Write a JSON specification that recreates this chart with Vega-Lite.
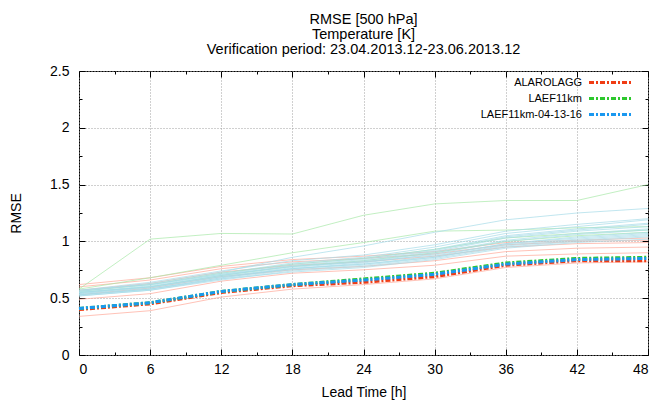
{
"$schema": "https://vega.github.io/schema/vega-lite/v6.json",
"width": 569, "height": 284,
"autosize": {"type": "none"},
"padding": {"left": 79, "top": 71, "right": 11, "bottom": 50},
"background": "white",
"config": {"font": "Liberation Sans", "view": {"stroke": "black", "strokeWidth": 1}},
"title": {"text": ["RMSE [500 hPa]", "Temperature [K]", "Verification period: 23.04.2013.12-23.06.2013.12"], "fontSize": 14.5, "fontWeight": "normal", "lineHeight": 15, "offset": 7, "anchor": "middle", "color": "black"},
"datasets": {
"members": [
{"grp":"ALARO_LAGG","run":"a1","lead":0,"rmse":0.34},{"grp":"ALARO_LAGG","run":"a1","lead":6,"rmse":0.39},{"grp":"ALARO_LAGG","run":"a1","lead":12,"rmse":0.51},{"grp":"ALARO_LAGG","run":"a1","lead":18,"rmse":0.58},{"grp":"ALARO_LAGG","run":"a1","lead":24,"rmse":0.62},{"grp":"ALARO_LAGG","run":"a1","lead":30,"rmse":0.67},{"grp":"ALARO_LAGG","run":"a1","lead":36,"rmse":0.77},{"grp":"ALARO_LAGG","run":"a1","lead":42,"rmse":0.81},{"grp":"ALARO_LAGG","run":"a1","lead":48,"rmse":0.82},
{"grp":"ALARO_LAGG","run":"a2","lead":0,"rmse":0.49},{"grp":"ALARO_LAGG","run":"a2","lead":6,"rmse":0.54},{"grp":"ALARO_LAGG","run":"a2","lead":12,"rmse":0.65},{"grp":"ALARO_LAGG","run":"a2","lead":18,"rmse":0.72},{"grp":"ALARO_LAGG","run":"a2","lead":24,"rmse":0.75},{"grp":"ALARO_LAGG","run":"a2","lead":30,"rmse":0.79},{"grp":"ALARO_LAGG","run":"a2","lead":36,"rmse":0.87},{"grp":"ALARO_LAGG","run":"a2","lead":42,"rmse":0.89},{"grp":"ALARO_LAGG","run":"a2","lead":48,"rmse":0.90},
{"grp":"ALARO_LAGG","run":"a3","lead":0,"rmse":0.53},{"grp":"ALARO_LAGG","run":"a3","lead":6,"rmse":0.59},{"grp":"ALARO_LAGG","run":"a3","lead":12,"rmse":0.69},{"grp":"ALARO_LAGG","run":"a3","lead":18,"rmse":0.75},{"grp":"ALARO_LAGG","run":"a3","lead":24,"rmse":0.78},{"grp":"ALARO_LAGG","run":"a3","lead":30,"rmse":0.83},{"grp":"ALARO_LAGG","run":"a3","lead":36,"rmse":0.91},{"grp":"ALARO_LAGG","run":"a3","lead":42,"rmse":0.94},{"grp":"ALARO_LAGG","run":"a3","lead":48,"rmse":0.95},
{"grp":"ALARO_LAGG","run":"a4","lead":0,"rmse":0.57},{"grp":"ALARO_LAGG","run":"a4","lead":6,"rmse":0.63},{"grp":"ALARO_LAGG","run":"a4","lead":12,"rmse":0.73},{"grp":"ALARO_LAGG","run":"a4","lead":18,"rmse":0.79},{"grp":"ALARO_LAGG","run":"a4","lead":24,"rmse":0.82},{"grp":"ALARO_LAGG","run":"a4","lead":30,"rmse":0.87},{"grp":"ALARO_LAGG","run":"a4","lead":36,"rmse":0.95},{"grp":"ALARO_LAGG","run":"a4","lead":42,"rmse":0.98},{"grp":"ALARO_LAGG","run":"a4","lead":48,"rmse":0.99},
{"grp":"ALARO_LAGG","run":"a5","lead":0,"rmse":0.62},{"grp":"ALARO_LAGG","run":"a5","lead":6,"rmse":0.68},{"grp":"ALARO_LAGG","run":"a5","lead":12,"rmse":0.78},{"grp":"ALARO_LAGG","run":"a5","lead":18,"rmse":0.84},{"grp":"ALARO_LAGG","run":"a5","lead":24,"rmse":0.87},{"grp":"ALARO_LAGG","run":"a5","lead":30,"rmse":0.91},{"grp":"ALARO_LAGG","run":"a5","lead":36,"rmse":0.99},{"grp":"ALARO_LAGG","run":"a5","lead":42,"rmse":1.01},{"grp":"ALARO_LAGG","run":"a5","lead":48,"rmse":1.03},
{"grp":"ALARO_LAGG","run":"a6","lead":0,"rmse":0.60},{"grp":"ALARO_LAGG","run":"a6","lead":6,"rmse":0.66},{"grp":"ALARO_LAGG","run":"a6","lead":12,"rmse":0.76},{"grp":"ALARO_LAGG","run":"a6","lead":18,"rmse":0.82},{"grp":"ALARO_LAGG","run":"a6","lead":24,"rmse":0.85},{"grp":"ALARO_LAGG","run":"a6","lead":30,"rmse":0.89},{"grp":"ALARO_LAGG","run":"a6","lead":36,"rmse":0.97},{"grp":"ALARO_LAGG","run":"a6","lead":42,"rmse":1.00},{"grp":"ALARO_LAGG","run":"a6","lead":48,"rmse":1.01},
{"grp":"LAEF11km","run":"l1","lead":0,"rmse":0.58},{"grp":"LAEF11km","run":"l1","lead":6,"rmse":1.02},{"grp":"LAEF11km","run":"l1","lead":12,"rmse":1.07},{"grp":"LAEF11km","run":"l1","lead":18,"rmse":1.065},{"grp":"LAEF11km","run":"l1","lead":24,"rmse":1.23},{"grp":"LAEF11km","run":"l1","lead":30,"rmse":1.33},{"grp":"LAEF11km","run":"l1","lead":36,"rmse":1.36},{"grp":"LAEF11km","run":"l1","lead":42,"rmse":1.36},{"grp":"LAEF11km","run":"l1","lead":48,"rmse":1.50},
{"grp":"LAEF11km","run":"l2","lead":0,"rmse":0.58},{"grp":"LAEF11km","run":"l2","lead":6,"rmse":0.68},{"grp":"LAEF11km","run":"l2","lead":12,"rmse":0.79},{"grp":"LAEF11km","run":"l2","lead":18,"rmse":0.90},{"grp":"LAEF11km","run":"l2","lead":24,"rmse":0.99},{"grp":"LAEF11km","run":"l2","lead":30,"rmse":1.09},{"grp":"LAEF11km","run":"l2","lead":36,"rmse":1.10},{"grp":"LAEF11km","run":"l2","lead":42,"rmse":1.12},{"grp":"LAEF11km","run":"l2","lead":48,"rmse":1.13},
{"grp":"LAEF11km","run":"l3","lead":0,"rmse":0.56},{"grp":"LAEF11km","run":"l3","lead":6,"rmse":0.62},{"grp":"LAEF11km","run":"l3","lead":12,"rmse":0.72},{"grp":"LAEF11km","run":"l3","lead":18,"rmse":0.80},{"grp":"LAEF11km","run":"l3","lead":24,"rmse":0.85},{"grp":"LAEF11km","run":"l3","lead":30,"rmse":0.93},{"grp":"LAEF11km","run":"l3","lead":36,"rmse":1.03},{"grp":"LAEF11km","run":"l3","lead":42,"rmse":1.07},{"grp":"LAEF11km","run":"l3","lead":48,"rmse":1.10},
{"grp":"LAEF11km","run":"l4","lead":0,"rmse":0.55},{"grp":"LAEF11km","run":"l4","lead":6,"rmse":0.60},{"grp":"LAEF11km","run":"l4","lead":12,"rmse":0.70},{"grp":"LAEF11km","run":"l4","lead":18,"rmse":0.78},{"grp":"LAEF11km","run":"l4","lead":24,"rmse":0.83},{"grp":"LAEF11km","run":"l4","lead":30,"rmse":0.90},{"grp":"LAEF11km","run":"l4","lead":36,"rmse":1.00},{"grp":"LAEF11km","run":"l4","lead":42,"rmse":1.05},{"grp":"LAEF11km","run":"l4","lead":48,"rmse":1.08},
{"grp":"LAEF11km-04-13-16","run":"n1","lead":0,"rmse":0.56},{"grp":"LAEF11km-04-13-16","run":"n1","lead":6,"rmse":0.63},{"grp":"LAEF11km-04-13-16","run":"n1","lead":12,"rmse":0.73},{"grp":"LAEF11km-04-13-16","run":"n1","lead":18,"rmse":0.86},{"grp":"LAEF11km-04-13-16","run":"n1","lead":24,"rmse":0.96},{"grp":"LAEF11km-04-13-16","run":"n1","lead":30,"rmse":1.08},{"grp":"LAEF11km-04-13-16","run":"n1","lead":36,"rmse":1.19},{"grp":"LAEF11km-04-13-16","run":"n1","lead":42,"rmse":1.25},{"grp":"LAEF11km-04-13-16","run":"n1","lead":48,"rmse":1.29},
{"grp":"LAEF11km-04-13-16","run":"n2","lead":0,"rmse":0.57},{"grp":"LAEF11km-04-13-16","run":"n2","lead":6,"rmse":0.64},{"grp":"LAEF11km-04-13-16","run":"n2","lead":12,"rmse":0.74},{"grp":"LAEF11km-04-13-16","run":"n2","lead":18,"rmse":0.83},{"grp":"LAEF11km-04-13-16","run":"n2","lead":24,"rmse":0.88},{"grp":"LAEF11km-04-13-16","run":"n2","lead":30,"rmse":0.97},{"grp":"LAEF11km-04-13-16","run":"n2","lead":36,"rmse":1.09},{"grp":"LAEF11km-04-13-16","run":"n2","lead":42,"rmse":1.15},{"grp":"LAEF11km-04-13-16","run":"n2","lead":48,"rmse":1.20},
{"grp":"LAEF11km-04-13-16","run":"n3","lead":0,"rmse":0.56},{"grp":"LAEF11km-04-13-16","run":"n3","lead":6,"rmse":0.62},{"grp":"LAEF11km-04-13-16","run":"n3","lead":12,"rmse":0.72},{"grp":"LAEF11km-04-13-16","run":"n3","lead":18,"rmse":0.81},{"grp":"LAEF11km-04-13-16","run":"n3","lead":24,"rmse":0.86},{"grp":"LAEF11km-04-13-16","run":"n3","lead":30,"rmse":0.95},{"grp":"LAEF11km-04-13-16","run":"n3","lead":36,"rmse":1.07},{"grp":"LAEF11km-04-13-16","run":"n3","lead":42,"rmse":1.13},{"grp":"LAEF11km-04-13-16","run":"n3","lead":48,"rmse":1.19},
{"grp":"LAEF11km-04-13-16","run":"n4","lead":0,"rmse":0.55},{"grp":"LAEF11km-04-13-16","run":"n4","lead":6,"rmse":0.61},{"grp":"LAEF11km-04-13-16","run":"n4","lead":12,"rmse":0.71},{"grp":"LAEF11km-04-13-16","run":"n4","lead":18,"rmse":0.80},{"grp":"LAEF11km-04-13-16","run":"n4","lead":24,"rmse":0.85},{"grp":"LAEF11km-04-13-16","run":"n4","lead":30,"rmse":0.93},{"grp":"LAEF11km-04-13-16","run":"n4","lead":36,"rmse":1.05},{"grp":"LAEF11km-04-13-16","run":"n4","lead":42,"rmse":1.11},{"grp":"LAEF11km-04-13-16","run":"n4","lead":48,"rmse":1.16},
{"grp":"LAEF11km-04-13-16","run":"n5","lead":0,"rmse":0.55},{"grp":"LAEF11km-04-13-16","run":"n5","lead":6,"rmse":0.60},{"grp":"LAEF11km-04-13-16","run":"n5","lead":12,"rmse":0.70},{"grp":"LAEF11km-04-13-16","run":"n5","lead":18,"rmse":0.79},{"grp":"LAEF11km-04-13-16","run":"n5","lead":24,"rmse":0.84},{"grp":"LAEF11km-04-13-16","run":"n5","lead":30,"rmse":0.92},{"grp":"LAEF11km-04-13-16","run":"n5","lead":36,"rmse":1.04},{"grp":"LAEF11km-04-13-16","run":"n5","lead":42,"rmse":1.10},{"grp":"LAEF11km-04-13-16","run":"n5","lead":48,"rmse":1.15},
{"grp":"LAEF11km-04-13-16","run":"n6","lead":0,"rmse":0.54},{"grp":"LAEF11km-04-13-16","run":"n6","lead":6,"rmse":0.60},{"grp":"LAEF11km-04-13-16","run":"n6","lead":12,"rmse":0.70},{"grp":"LAEF11km-04-13-16","run":"n6","lead":18,"rmse":0.78},{"grp":"LAEF11km-04-13-16","run":"n6","lead":24,"rmse":0.83},{"grp":"LAEF11km-04-13-16","run":"n6","lead":30,"rmse":0.91},{"grp":"LAEF11km-04-13-16","run":"n6","lead":36,"rmse":1.03},{"grp":"LAEF11km-04-13-16","run":"n6","lead":42,"rmse":1.09},{"grp":"LAEF11km-04-13-16","run":"n6","lead":48,"rmse":1.13},
{"grp":"LAEF11km-04-13-16","run":"n7","lead":0,"rmse":0.54},{"grp":"LAEF11km-04-13-16","run":"n7","lead":6,"rmse":0.59},{"grp":"LAEF11km-04-13-16","run":"n7","lead":12,"rmse":0.69},{"grp":"LAEF11km-04-13-16","run":"n7","lead":18,"rmse":0.77},{"grp":"LAEF11km-04-13-16","run":"n7","lead":24,"rmse":0.82},{"grp":"LAEF11km-04-13-16","run":"n7","lead":30,"rmse":0.90},{"grp":"LAEF11km-04-13-16","run":"n7","lead":36,"rmse":1.01},{"grp":"LAEF11km-04-13-16","run":"n7","lead":42,"rmse":1.07},{"grp":"LAEF11km-04-13-16","run":"n7","lead":48,"rmse":1.11},
{"grp":"LAEF11km-04-13-16","run":"n8","lead":0,"rmse":0.53},{"grp":"LAEF11km-04-13-16","run":"n8","lead":6,"rmse":0.58},{"grp":"LAEF11km-04-13-16","run":"n8","lead":12,"rmse":0.68},{"grp":"LAEF11km-04-13-16","run":"n8","lead":18,"rmse":0.76},{"grp":"LAEF11km-04-13-16","run":"n8","lead":24,"rmse":0.81},{"grp":"LAEF11km-04-13-16","run":"n8","lead":30,"rmse":0.89},{"grp":"LAEF11km-04-13-16","run":"n8","lead":36,"rmse":1.00},{"grp":"LAEF11km-04-13-16","run":"n8","lead":42,"rmse":1.06},{"grp":"LAEF11km-04-13-16","run":"n8","lead":48,"rmse":1.10},
{"grp":"LAEF11km-04-13-16","run":"n9","lead":0,"rmse":0.53},{"grp":"LAEF11km-04-13-16","run":"n9","lead":6,"rmse":0.58},{"grp":"LAEF11km-04-13-16","run":"n9","lead":12,"rmse":0.68},{"grp":"LAEF11km-04-13-16","run":"n9","lead":18,"rmse":0.76},{"grp":"LAEF11km-04-13-16","run":"n9","lead":24,"rmse":0.80},{"grp":"LAEF11km-04-13-16","run":"n9","lead":30,"rmse":0.87},{"grp":"LAEF11km-04-13-16","run":"n9","lead":36,"rmse":0.98},{"grp":"LAEF11km-04-13-16","run":"n9","lead":42,"rmse":1.04},{"grp":"LAEF11km-04-13-16","run":"n9","lead":48,"rmse":1.08},
{"grp":"LAEF11km-04-13-16","run":"n10","lead":0,"rmse":0.52},{"grp":"LAEF11km-04-13-16","run":"n10","lead":6,"rmse":0.57},{"grp":"LAEF11km-04-13-16","run":"n10","lead":12,"rmse":0.67},{"grp":"LAEF11km-04-13-16","run":"n10","lead":18,"rmse":0.75},{"grp":"LAEF11km-04-13-16","run":"n10","lead":24,"rmse":0.79},{"grp":"LAEF11km-04-13-16","run":"n10","lead":30,"rmse":0.86},{"grp":"LAEF11km-04-13-16","run":"n10","lead":36,"rmse":0.97},{"grp":"LAEF11km-04-13-16","run":"n10","lead":42,"rmse":1.02},{"grp":"LAEF11km-04-13-16","run":"n10","lead":48,"rmse":1.06},
{"grp":"LAEF11km-04-13-16","run":"n11","lead":0,"rmse":0.52},{"grp":"LAEF11km-04-13-16","run":"n11","lead":6,"rmse":0.57},{"grp":"LAEF11km-04-13-16","run":"n11","lead":12,"rmse":0.66},{"grp":"LAEF11km-04-13-16","run":"n11","lead":18,"rmse":0.74},{"grp":"LAEF11km-04-13-16","run":"n11","lead":24,"rmse":0.78},{"grp":"LAEF11km-04-13-16","run":"n11","lead":30,"rmse":0.85},{"grp":"LAEF11km-04-13-16","run":"n11","lead":36,"rmse":0.95},{"grp":"LAEF11km-04-13-16","run":"n11","lead":42,"rmse":1.00},{"grp":"LAEF11km-04-13-16","run":"n11","lead":48,"rmse":1.04},
{"grp":"LAEF11km-04-13-16","run":"n12","lead":0,"rmse":0.57},{"grp":"LAEF11km-04-13-16","run":"n12","lead":6,"rmse":0.62},{"grp":"LAEF11km-04-13-16","run":"n12","lead":12,"rmse":0.71},{"grp":"LAEF11km-04-13-16","run":"n12","lead":18,"rmse":0.78},{"grp":"LAEF11km-04-13-16","run":"n12","lead":24,"rmse":0.82},{"grp":"LAEF11km-04-13-16","run":"n12","lead":30,"rmse":0.88},{"grp":"LAEF11km-04-13-16","run":"n12","lead":36,"rmse":0.98},{"grp":"LAEF11km-04-13-16","run":"n12","lead":42,"rmse":1.03},{"grp":"LAEF11km-04-13-16","run":"n12","lead":48,"rmse":1.07},
{"grp":"LAEF11km-04-13-16","run":"n13","lead":0,"rmse":0.55},{"grp":"LAEF11km-04-13-16","run":"n13","lead":6,"rmse":0.60},{"grp":"LAEF11km-04-13-16","run":"n13","lead":12,"rmse":0.69},{"grp":"LAEF11km-04-13-16","run":"n13","lead":18,"rmse":0.76},{"grp":"LAEF11km-04-13-16","run":"n13","lead":24,"rmse":0.80},{"grp":"LAEF11km-04-13-16","run":"n13","lead":30,"rmse":0.86},{"grp":"LAEF11km-04-13-16","run":"n13","lead":36,"rmse":0.96},{"grp":"LAEF11km-04-13-16","run":"n13","lead":42,"rmse":1.01},{"grp":"LAEF11km-04-13-16","run":"n13","lead":48,"rmse":1.05},
{"grp":"LAEF11km-04-13-16","run":"n14","lead":0,"rmse":0.53},{"grp":"LAEF11km-04-13-16","run":"n14","lead":6,"rmse":0.58},{"grp":"LAEF11km-04-13-16","run":"n14","lead":12,"rmse":0.67},{"grp":"LAEF11km-04-13-16","run":"n14","lead":18,"rmse":0.73},{"grp":"LAEF11km-04-13-16","run":"n14","lead":24,"rmse":0.77},{"grp":"LAEF11km-04-13-16","run":"n14","lead":30,"rmse":0.84},{"grp":"LAEF11km-04-13-16","run":"n14","lead":36,"rmse":0.94},{"grp":"LAEF11km-04-13-16","run":"n14","lead":42,"rmse":0.99},{"grp":"LAEF11km-04-13-16","run":"n14","lead":48,"rmse":1.02}
],
"mains": [
{"model":"ALARO_LAGG","lead":0,"rmse":0.40},{"model":"ALARO_LAGG","lead":6,"rmse":0.45},{"model":"ALARO_LAGG","lead":12,"rmse":0.55},{"model":"ALARO_LAGG","lead":18,"rmse":0.61},{"model":"ALARO_LAGG","lead":24,"rmse":0.64},{"model":"ALARO_LAGG","lead":30,"rmse":0.69},{"model":"ALARO_LAGG","lead":36,"rmse":0.79},{"model":"ALARO_LAGG","lead":42,"rmse":0.83},{"model":"ALARO_LAGG","lead":48,"rmse":0.83},
{"model":"LAEF11km","lead":0,"rmse":0.41},{"model":"LAEF11km","lead":6,"rmse":0.46},{"model":"LAEF11km","lead":12,"rmse":0.56},{"model":"LAEF11km","lead":18,"rmse":0.62},{"model":"LAEF11km","lead":24,"rmse":0.67},{"model":"LAEF11km","lead":30,"rmse":0.72},{"model":"LAEF11km","lead":36,"rmse":0.81},{"model":"LAEF11km","lead":42,"rmse":0.85},{"model":"LAEF11km","lead":48,"rmse":0.86},
{"model":"LAEF11km-04-13-16","lead":0,"rmse":0.41},{"model":"LAEF11km-04-13-16","lead":6,"rmse":0.46},{"model":"LAEF11km-04-13-16","lead":12,"rmse":0.56},{"model":"LAEF11km-04-13-16","lead":18,"rmse":0.62},{"model":"LAEF11km-04-13-16","lead":24,"rmse":0.66},{"model":"LAEF11km-04-13-16","lead":30,"rmse":0.71},{"model":"LAEF11km-04-13-16","lead":36,"rmse":0.80},{"model":"LAEF11km-04-13-16","lead":42,"rmse":0.84},{"model":"LAEF11km-04-13-16","lead":48,"rmse":0.85}
]
},
"layer": [
{
"data": {"name": "members"},
"mark": {"type": "line", "strokeWidth": 1, "opacity": 0.7},
"encoding": {
"x": {"field": "lead", "type": "quantitative", "scale": {"domain": [0, 48], "nice": false},
 "axis": {"orient": "bottom", "values": [0,3,6,9,12,15,18,21,24,27,30,33,36,39,42,45,48], "domain": false, "grid": true, "gridColor": "#a0a0a0", "gridDash": [1, 2],
  "gridOpacity": {"condition": {"test": "datum.value % 6 !== 0", "value": 0}, "value": 1},
  "tickColor": "black", "tickSize": {"condition": {"test": "datum.value % 6 !== 0", "value": -3}, "value": -6},
  "labelExpr": "datum.value % 6 === 0 ? datum.label : ''", "labelFontSize": 14, "labelColor": "black", "labelPadding": 13,
  "title": "Lead Time [h]", "titleFontSize": 14, "titleFontWeight": "normal", "titleColor": "black", "titlePadding": 9}},
"y": {"field": "rmse", "type": "quantitative", "scale": {"domain": [0, 2.5], "nice": false},
 "axis": {"orient": "left", "values": [0,0.25,0.5,0.75,1,1.25,1.5,1.75,2,2.25,2.5], "format": "~g", "domain": false, "grid": true, "gridColor": "#a0a0a0", "gridDash": [1, 2],
  "gridOpacity": {"condition": {"test": "(datum.value*4) % 2 !== 0", "value": 0}, "value": 1},
  "tickColor": "black", "tickSize": {"condition": {"test": "(datum.value*4) % 2 !== 0", "value": -3}, "value": -6},
  "labelExpr": "(datum.value*4) % 2 === 0 ? datum.label : ''", "labelFontSize": 14, "labelColor": "black", "labelPadding": 16,
  "title": "RMSE", "titleFontSize": 14, "titleFontWeight": "normal", "titleColor": "black", "titlePadding": 26}},
"color": {"field": "grp", "type": "nominal", "scale": {"domain": ["ALARO_LAGG", "LAEF11km", "LAEF11km-04-13-16"], "range": ["#ffa898", "#a8e8a8", "#a6dbe8"]}, "legend": null},
"detail": {"field": "run"}
}
},
{
"data": {"name": "mains"},
"mark": {"type": "line", "strokeWidth": 3, "strokeDash": [5, 2, 2, 2]},
"encoding": {
"x": {"field": "lead", "type": "quantitative",
 "axis": {"orient": "top", "values": [0,3,6,9,12,15,18,21,24,27,30,33,36,39,42,45,48], "domain": false, "grid": false, "labels": false, "title": null,
  "tickColor": "black", "tickSize": {"condition": {"test": "datum.value % 6 !== 0", "value": -3}, "value": -6}}},
"y": {"field": "rmse", "type": "quantitative",
 "axis": {"orient": "right", "values": [0,0.25,0.5,0.75,1,1.25,1.5,1.75,2,2.25,2.5], "domain": false, "grid": false, "labels": false, "title": null,
  "tickColor": "black", "tickSize": {"condition": {"test": "(datum.value*4) % 2 !== 0", "value": -3}, "value": -6}}},
"color": {"field": "model", "type": "nominal", "scale": {"domain": ["ALARO_LAGG", "LAEF11km", "LAEF11km-04-13-16"], "range": ["#f03c14", "#2ec82e", "#1a98f0"]},
 "legend": {"orient": "none", "legendX": 400, "legendY": 5, "title": null, "labelFontSize": 11, "labelColor": "black", "symbolType": "M-4.2,0H4.2", "symbolStrokeWidth": 3, "symbolDash": [5, 2, 2, 2], "symbolSize": 100, "padding": 0, "rowPadding": 3,
  "labelExpr": "replace(datum.label, '_', '')",
  "encode": {"symbols": {"update": {"x": {"value": 131}}}, "labels": {"update": {"x": {"value": 103}, "align": {"value": "right"}}}}}}
}
}
],
"resolve": {"scale": {"color": "independent"}, "axis": {"x": "independent", "y": "independent"}}
}
